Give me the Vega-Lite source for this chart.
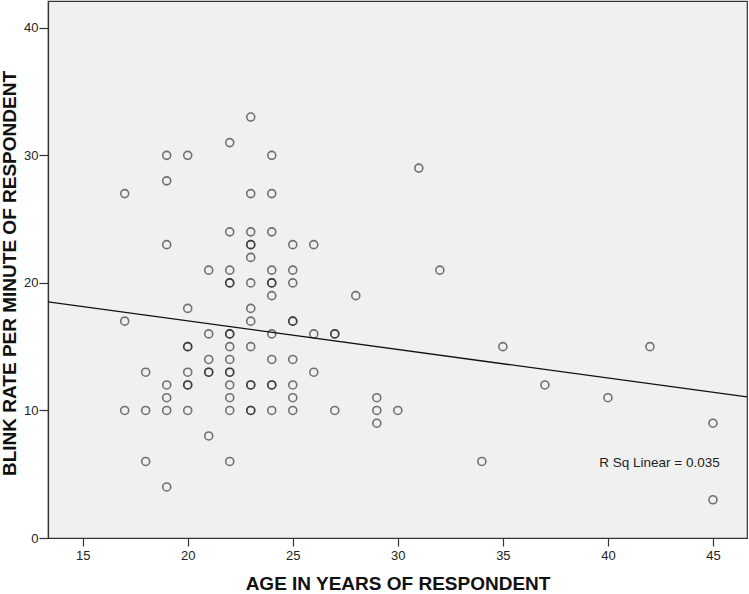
{
  "$schema": "https://vega.github.io/schema/vega-lite/v6.json",
  "width": 699,
  "height": 537,
  "autosize": {"type": "none"},
  "padding": {"left": 48, "top": 1, "right": 2, "bottom": 56},
  "background": "white",
  "config": {
    "view": {"fill": "#F0F0F0", "stroke": "#333333", "strokeWidth": 1.2},
    "font": "Liberation Sans",
    "axis": {
      "grid": false,
      "domainColor": "#333333",
      "domainWidth": 1.2,
      "tickColor": "#333333",
      "tickSize": 8,
      "tickWidth": 1.2,
      "labelFont": "Liberation Sans",
      "labelFontSize": 13,
      "labelColor": "#222222",
      "labelPadding": 2,
      "titleFont": "Liberation Sans",
      "titleFontSize": 19,
      "titleFontWeight": "bold",
      "titleColor": "#111111"
    }
  },
  "data": {
    "values": [
      {"age": 17, "rate": 27}, {"age": 17, "rate": 17}, {"age": 17, "rate": 10},
      {"age": 18, "rate": 13}, {"age": 18, "rate": 10}, {"age": 18, "rate": 6},
      {"age": 19, "rate": 30}, {"age": 19, "rate": 28}, {"age": 19, "rate": 23}, {"age": 19, "rate": 12}, {"age": 19, "rate": 11}, {"age": 19, "rate": 10}, {"age": 19, "rate": 4},
      {"age": 20, "rate": 30}, {"age": 20, "rate": 18}, {"age": 20, "rate": 15}, {"age": 20, "rate": 15}, {"age": 20, "rate": 13}, {"age": 20, "rate": 12}, {"age": 20, "rate": 12}, {"age": 20, "rate": 10},
      {"age": 21, "rate": 21}, {"age": 21, "rate": 16}, {"age": 21, "rate": 14}, {"age": 21, "rate": 13}, {"age": 21, "rate": 13}, {"age": 21, "rate": 8},
      {"age": 22, "rate": 31}, {"age": 22, "rate": 24}, {"age": 22, "rate": 21}, {"age": 22, "rate": 20}, {"age": 22, "rate": 20}, {"age": 22, "rate": 16}, {"age": 22, "rate": 16}, {"age": 22, "rate": 15}, {"age": 22, "rate": 14}, {"age": 22, "rate": 13}, {"age": 22, "rate": 13}, {"age": 22, "rate": 12}, {"age": 22, "rate": 11}, {"age": 22, "rate": 10}, {"age": 22, "rate": 6},
      {"age": 23, "rate": 33}, {"age": 23, "rate": 27}, {"age": 23, "rate": 24}, {"age": 23, "rate": 23}, {"age": 23, "rate": 23}, {"age": 23, "rate": 22}, {"age": 23, "rate": 20}, {"age": 23, "rate": 18}, {"age": 23, "rate": 17}, {"age": 23, "rate": 15}, {"age": 23, "rate": 12}, {"age": 23, "rate": 12}, {"age": 23, "rate": 10}, {"age": 23, "rate": 10},
      {"age": 24, "rate": 30}, {"age": 24, "rate": 27}, {"age": 24, "rate": 24}, {"age": 24, "rate": 21}, {"age": 24, "rate": 20}, {"age": 24, "rate": 20}, {"age": 24, "rate": 19}, {"age": 24, "rate": 16}, {"age": 24, "rate": 14}, {"age": 24, "rate": 12}, {"age": 24, "rate": 12}, {"age": 24, "rate": 10},
      {"age": 25, "rate": 23}, {"age": 25, "rate": 21}, {"age": 25, "rate": 20}, {"age": 25, "rate": 17}, {"age": 25, "rate": 17}, {"age": 25, "rate": 14}, {"age": 25, "rate": 12}, {"age": 25, "rate": 11}, {"age": 25, "rate": 10},
      {"age": 26, "rate": 23}, {"age": 26, "rate": 16}, {"age": 26, "rate": 13},
      {"age": 27, "rate": 16}, {"age": 27, "rate": 16}, {"age": 27, "rate": 10},
      {"age": 28, "rate": 19},
      {"age": 29, "rate": 11}, {"age": 29, "rate": 10}, {"age": 29, "rate": 9},
      {"age": 30, "rate": 10},
      {"age": 31, "rate": 29},
      {"age": 32, "rate": 21},
      {"age": 34, "rate": 6},
      {"age": 35, "rate": 15},
      {"age": 37, "rate": 12},
      {"age": 40, "rate": 11},
      {"age": 42, "rate": 15},
      {"age": 45, "rate": 9}, {"age": 45, "rate": 3}
    ]
  },
  "layer": [
    {
      "mark": {"type": "point", "shape": "circle", "filled": false, "size": 64, "stroke": "#1a1a1a", "strokeWidth": 1.6, "strokeOpacity": 0.85},
      "encoding": {
        "x": {
          "field": "age", "type": "quantitative",
          "scale": {"domain": [13.35, 46.62], "nice": false, "zero": false},
          "axis": {"values": [15, 20, 25, 30, 35, 40, 45], "labelPadding": 3, "title": "AGE IN YEARS OF RESPONDENT", "titleY": 51.5, "titleBaseline": "alphabetic"}
        },
        "y": {
          "field": "rate", "type": "quantitative",
          "scale": {"domain": [0, 42.1], "nice": false},
          "axis": {"values": [0, 10, 20, 30, 40], "tickSize": 9, "labelPadding": 1, "title": "BLINK RATE PER MINUTE OF RESPONDENT", "titleX": -33, "titleY": 272, "titleAngle": -90, "titleAlign": "center", "titleBaseline": "alphabetic"}
        }
      }
    },
    {
      "transform": [{"regression": "rate", "on": "age", "extent": [13.35, 46.62]}],
      "mark": {"type": "line", "color": "#111111", "strokeWidth": 1.4, "clip": true},
      "encoding": {
        "x": {"field": "age", "type": "quantitative"},
        "y": {"field": "rate", "type": "quantitative"}
      }
    },
    {
      "data": {"values": [{"note": "R Sq Linear = 0.035"}]},
      "mark": {"type": "text", "align": "left", "baseline": "middle", "fontSize": 13.5, "font": "Liberation Sans", "color": "#222222"},
      "encoding": {
        "x": {"datum": 39.59},
        "y": {"datum": 5.9},
        "text": {"field": "note"}
      }
    }
  ]
}
